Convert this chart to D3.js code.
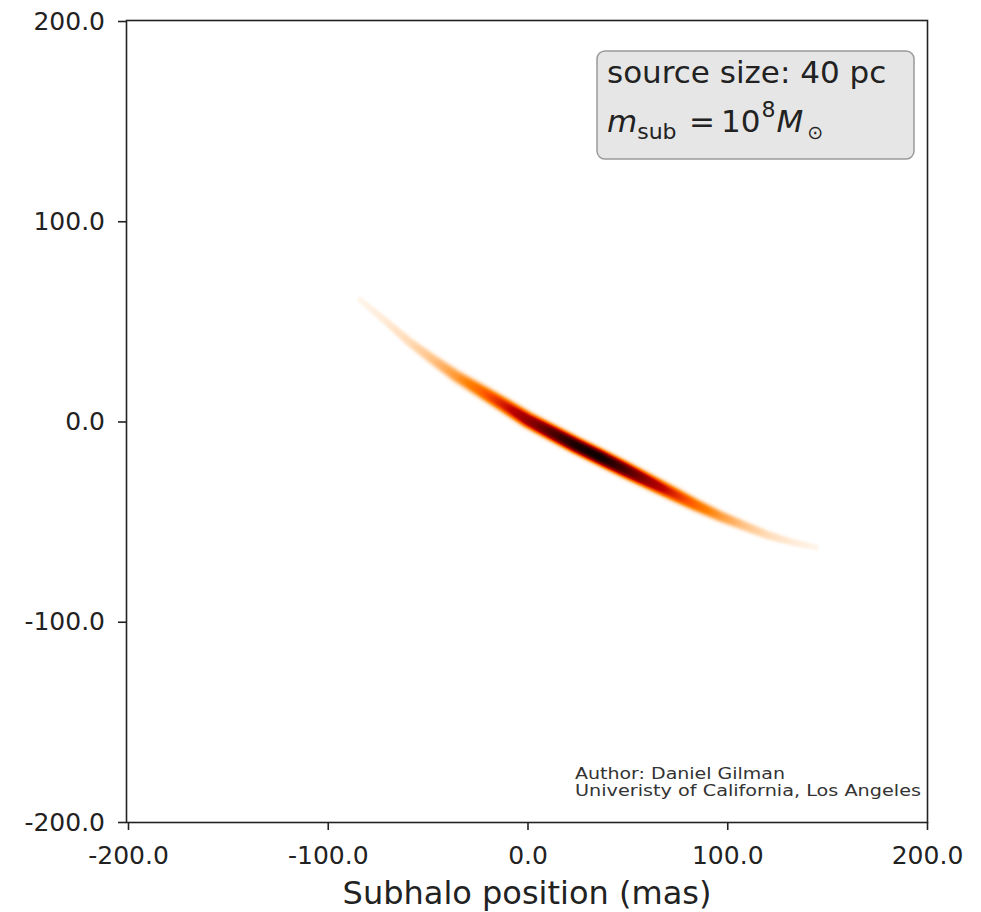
<!DOCTYPE html>
<html>
<head>
<meta charset="utf-8">
<script src="https://cdn.jsdelivr.net/npm/d3@7/dist/d3.min.js"></script>
<style>
  html, body { margin: 0; padding: 0; background: #fff; }
  svg { display: block; font-family: "DejaVu Sans", sans-serif; }
</style>
</head>
<body>
<svg id="chart" width="981" height="912"></svg>
<script>
// ---------------- data ----------------
// ridge of the lensing-sensitivity streak, in mas
const ridgeX = [-84, -72, -60, -48, -36, -24, -12, 0, 12, 24, 36, 48, 60, 72, 84, 96, 108, 120, 132, 144];
const ridgeY = [61, 51, 40.5, 31.5, 23, 15.8, 8.5, 1.0, -5.3, -11.6, -17.5, -23.5, -29.5, -35.5, -41.5, -47, -51.8, -56.5, -60, -62.5];
// relative intensity along the ridge (0..1)
const ridgeI = [0.02, 0.04, 0.07, 0.12, 0.2, 0.3, 0.45, 0.62, 0.8, 0.94, 0.97, 0.82, 0.62, 0.44, 0.3, 0.2, 0.12, 0.07, 0.04, 0.02];
// streak half-thickness scale (mas)
const ridgeW = [1.3, 1.5, 1.8, 2.1, 2.4, 2.6, 2.7, 2.8, 2.8, 2.8, 2.8, 2.8, 2.7, 2.6, 2.4, 2.2, 2.0, 1.8, 1.5, 1.3];

const xTicks = [-200, -100, 0, 100, 200];
const yTicks = [-200, -100, 0, 100, 200];
const xLabel = "Subhalo position (mas)";
const boxLine1 = "source size: 40 pc";
const authorLines = ["Author: Daniel Gilman", "Univeristy of California, Los Angeles"];

// ---------------- layout ----------------
const svg = d3.select("#chart");
const L = 127, R = 927, T = 21, B = 822;
const x = d3.scaleLinear().domain([-200, 200]).range([L + 1, R]);
const y = d3.scaleLinear().domain([-200, 200]).range([B, T]);

svg.append("rect").attr("width", 981).attr("height", 912).attr("fill", "#fff");

// ---------------- heat streak (rendered from ridge data) ----------------
function gistHeatR(v) {
  const t = 1 - Math.max(0, Math.min(1, v));
  const r = Math.min(1, 1.5 * t);
  const g = Math.max(0, Math.min(1, 2 * t - 1));
  const b = Math.max(0, Math.min(1, 4 * t - 3));
  return [r * 255, g * 255, b * 255];
}
(function drawStreak() {
  const W = R - L, H = B - T;
  const canvas = document.createElement("canvas");
  canvas.width = W; canvas.height = H;
  const ctx = canvas.getContext("2d");
  const img = ctx.createImageData(W, H);
  const pts = ridgeX.map((d, i) => ({
    px: x(d) - L, py: y(ridgeY[i]) - T, I: ridgeI[i],
    s: Math.abs(x(ridgeW[i]) - x(0))
  }));
  const x0 = Math.floor(d3.min(pts, p => p.px) - 40), x1 = Math.ceil(d3.max(pts, p => p.px) + 40);
  const y0 = Math.floor(d3.min(pts, p => p.py) - 40), y1 = Math.ceil(d3.max(pts, p => p.py) + 40);
  for (let j = 0; j < H; j++) {
    for (let i = 0; i < W; i++) {
      const k = (j * W + i) * 4;
      let v = 0;
      if (i >= x0 && i <= x1 && j >= y0 && j <= y1) {
        for (let s = 0; s < pts.length - 1; s++) {
          const a = pts[s], b = pts[s + 1];
          const dx = b.px - a.px, dy = b.py - a.py;
          let t = ((i - a.px) * dx + (j - a.py) * dy) / (dx * dx + dy * dy);
          t = Math.max(0, Math.min(1, t));
          const cx = a.px + t * dx, cy = a.py + t * dy;
          const d = Math.hypot(i - cx, j - cy);
          const I = a.I + t * (b.I - a.I);
          const sg = a.s + t * (b.s - a.s);
          const val = I * Math.exp(-0.5 * Math.pow(d / sg, 3));
          if (val > v) v = val;
        }
      }
      const c = gistHeatR(v);
      img.data[k] = c[0]; img.data[k + 1] = c[1]; img.data[k + 2] = c[2]; img.data[k + 3] = 255;
    }
  }
  ctx.putImageData(img, 0, 0);
  svg.append("image")
    .attr("x", L).attr("y", T).attr("width", W).attr("height", H)
    .attr("href", canvas.toDataURL());
})();

// ---------------- axes ----------------
const frame = svg.append("g");
frame.append("rect")
  .attr("x", L - 0.5).attr("y", T - 0.5).attr("width", R - L + 1).attr("height", B - T + 1)
  .attr("fill", "none").attr("stroke", "#222").attr("stroke-width", 1.6);

const fmt = d => d.toFixed(1);
const xAxis = svg.append("g").attr("transform", `translate(0,${B})`)
  .call(d3.axisBottom(x).tickValues(xTicks).tickFormat(fmt).tickSize(8).tickPadding(10));
const yAxis = svg.append("g").attr("transform", `translate(${L - 1},0)`)
  .call(d3.axisLeft(y).tickValues(yTicks).tickFormat(fmt).tickSize(8).tickPadding(13));
[xAxis, yAxis].forEach(g => {
  g.select(".domain").remove();
  g.selectAll(".tick line").attr("stroke", "#222").attr("stroke-width", 1.6);
  g.selectAll(".tick text").attr("fill", "#222").style("font-size", "25px")
    .style("font-family", "'DejaVu Sans', sans-serif");
});
xAxis.selectAll(".tick text").attr("dy", "0.95em");

svg.append("text")
  .attr("x", (L + R) / 2).attr("y", 904)
  .attr("text-anchor", "middle").attr("fill", "#222")
  .style("font-size", "32px")
  .text(xLabel);

// ---------------- annotation box ----------------
svg.append("rect")
  .attr("x", 597).attr("y", 51).attr("width", 317).attr("height", 108)
  .attr("rx", 8).attr("ry", 8)
  .attr("fill", "#e6e6e6").attr("stroke", "#9a9a9a").attr("stroke-width", 1.5);
svg.append("text").attr("x", 607).attr("y", 83).attr("fill", "#222")
  .style("font-size", "31px").text(boxLine1);
const m = svg.append("text").attr("y", 132).attr("fill", "#222").style("font-size", "31px");
m.append("tspan").attr("x", 607).style("font-style", "italic").text("m");
m.append("tspan").attr("dx", 0).attr("y", 139).style("font-size", "22px").text("sub");
m.append("tspan").attr("x", 689).attr("y", 132).text("=");
m.append("tspan").attr("x", 721).text("10");
m.append("tspan").attr("dx", 1).attr("y", 117).style("font-size", "22px").text("8");
m.append("tspan").attr("dx", 1).attr("y", 132).style("font-style", "italic").text("M");
m.append("tspan").attr("dx", 4).attr("y", 139).style("font-size", "19px").text("\u2299");

// ---------------- author credit ----------------
svg.selectAll("text.author").data(authorLines).join("text")
  .attr("class", "author")
  .attr("x", 575).attr("y", (d, i) => 779 + i * 17)
  .attr("fill", "#333").style("font-size", "15px")
  .attr("textLength", (d, i) => i === 0 ? 210 : 346)
  .attr("lengthAdjust", "spacingAndGlyphs")
  .text(d => d);
</script>
</body>
</html>
